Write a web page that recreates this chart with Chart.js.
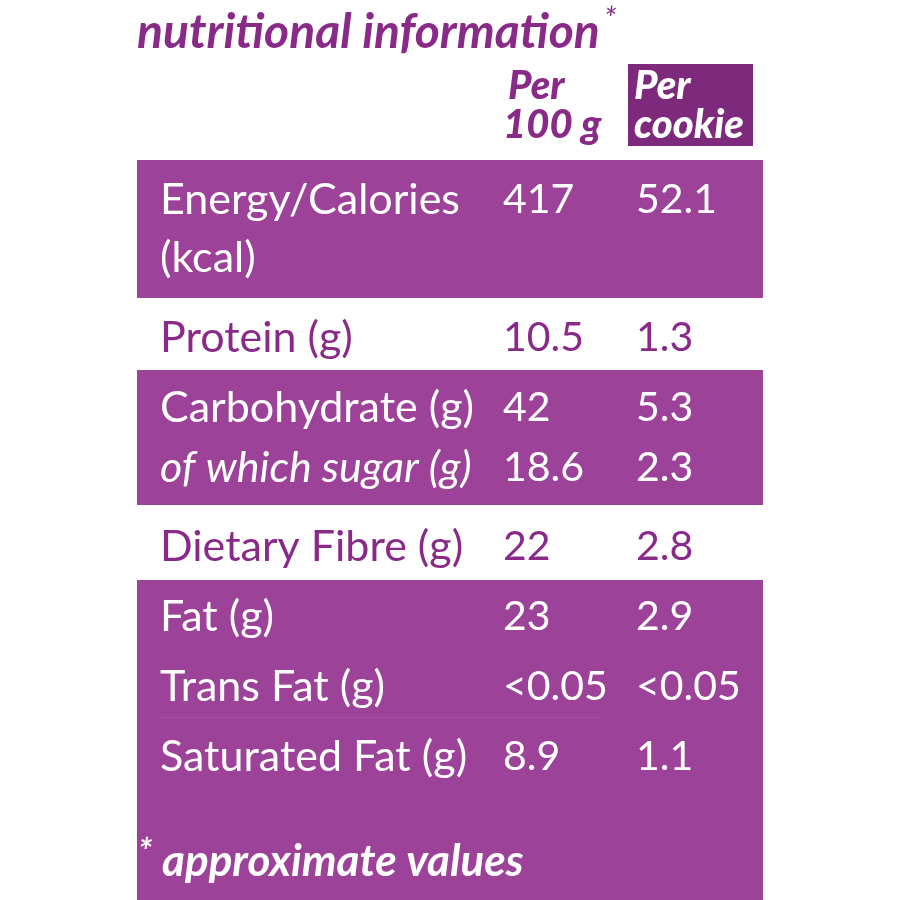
<!DOCTYPE html>
<html><head><meta charset="utf-8">
<script src="https://cdn.jsdelivr.net/npm/chart.js@4/dist/chart.umd.min.js"></script>
<style>html,body{margin:0;background:#fff}#w{width:900px;height:900px}</style>
</head><body><div id="w"><canvas id="c"></canvas></div>
<script>
const title = "nutritional information";
const colHeaders = [["Per","100 g"],["Per","cookie"]];
const rowLabels = ["Energy/Calories","(kcal)","Protein (g)","Carbohydrate (g)","of which sugar (g)","Dietary Fibre (g)","Fat (g)","Trans Fat (g)","Saturated Fat (g)"];
const per100g = ["417","","10.5","42","18.6","22","23","<0.05","8.9"];
const perCookie = ["52.1","","1.3","5.3","2.3","2.8","2.9","<0.05","1.1"];
const rowItalic = [false,false,false,false,true,false,false,false,false];
const rowShaded = [true,true,false,true,true,false,true,true,true];
const footnote = "approximate values";

// layout (pixels in a 0..900 linear space)
const rowY = [200,258,338,408,468,547,617,687,757];
const bands = [[160,298],[370,505],[580,900]];
const PURPLE = "#9c4399", DARK = "#8a2a88";

const tablePlugin = {
  id:'table',
  beforeDatasetsDraw(ch){
    const c = ch.ctx, X = ch.scales.x, Y = ch.scales.y;
    const px = v => X.getPixelForValue(v), py = v => Y.getPixelForValue(v);
    c.save();
    c.fillStyle = PURPLE;
    bands.forEach(b => c.fillRect(px(137), py(b[0]), px(763)-px(137), py(b[1])-py(b[0])));
    c.fillStyle = "rgba(255,255,255,0.08)";
    c.fillRect(px(160),py(717),px(600)-px(160),1);
    c.fillStyle = "#7e2a7c";
    c.fillRect(px(628),py(64),px(753)-px(628),py(146)-py(64));
    c.textBaseline = "middle";
    c.fillStyle = DARK;
    c.font = "italic bold 48px Lato";
    c.fillText(title, px(137), py(33));
    const tw = c.measureText(title).width;
    c.font = "italic 32px Lato";
    c.fillText("*", px(137)+tw+4, py(20));
    c.font = "italic 900 40px Lato";
    c.fillText(colHeaders[0][0], px(508), py(86));
    c.fillText(colHeaders[0][1], px(503), py(125));
    c.fillStyle = "#fff";
    c.fillText(colHeaders[1][0], px(634), py(86));
    c.fillText(colHeaders[1][1], px(634), py(125));
    rowLabels.forEach((l,i) => {
      c.fillStyle = rowShaded[i] ? "#fff" : DARK;
      c.font = (rowItalic[i] ? "italic " : "") + "43px Lato";
      c.fillText(l, px(160), py(rowY[i]));
      c.font = "41px Lato";
      c.fillText(per100g[i], px(503), py(rowY[i]));
      c.fillText(perCookie[i], px(636), py(rowY[i]));
    });
    c.fillStyle = "#fff";
    c.font = "italic bold 36px Lato";
    c.fillText("*", px(138), py(852));
    c.font = "italic bold 44px Lato";
    c.fillText(footnote, px(162), py(862));
    c.restore();
  }
};

new Chart(document.getElementById('c'), {
  type:'scatter',
  data:{datasets:[{data:[], pointRadius:0}]},
  options:{
    responsive:true, maintainAspectRatio:false, animation:false,
    layout:{padding:0},
    plugins:{legend:{display:false},tooltip:{enabled:false}},
    scales:{
      x:{type:'linear',min:0,max:900,display:false},
      y:{type:'linear',min:0,max:900,reverse:true,display:false}
    }
  },
  plugins:[tablePlugin]
});
</script></body></html>
